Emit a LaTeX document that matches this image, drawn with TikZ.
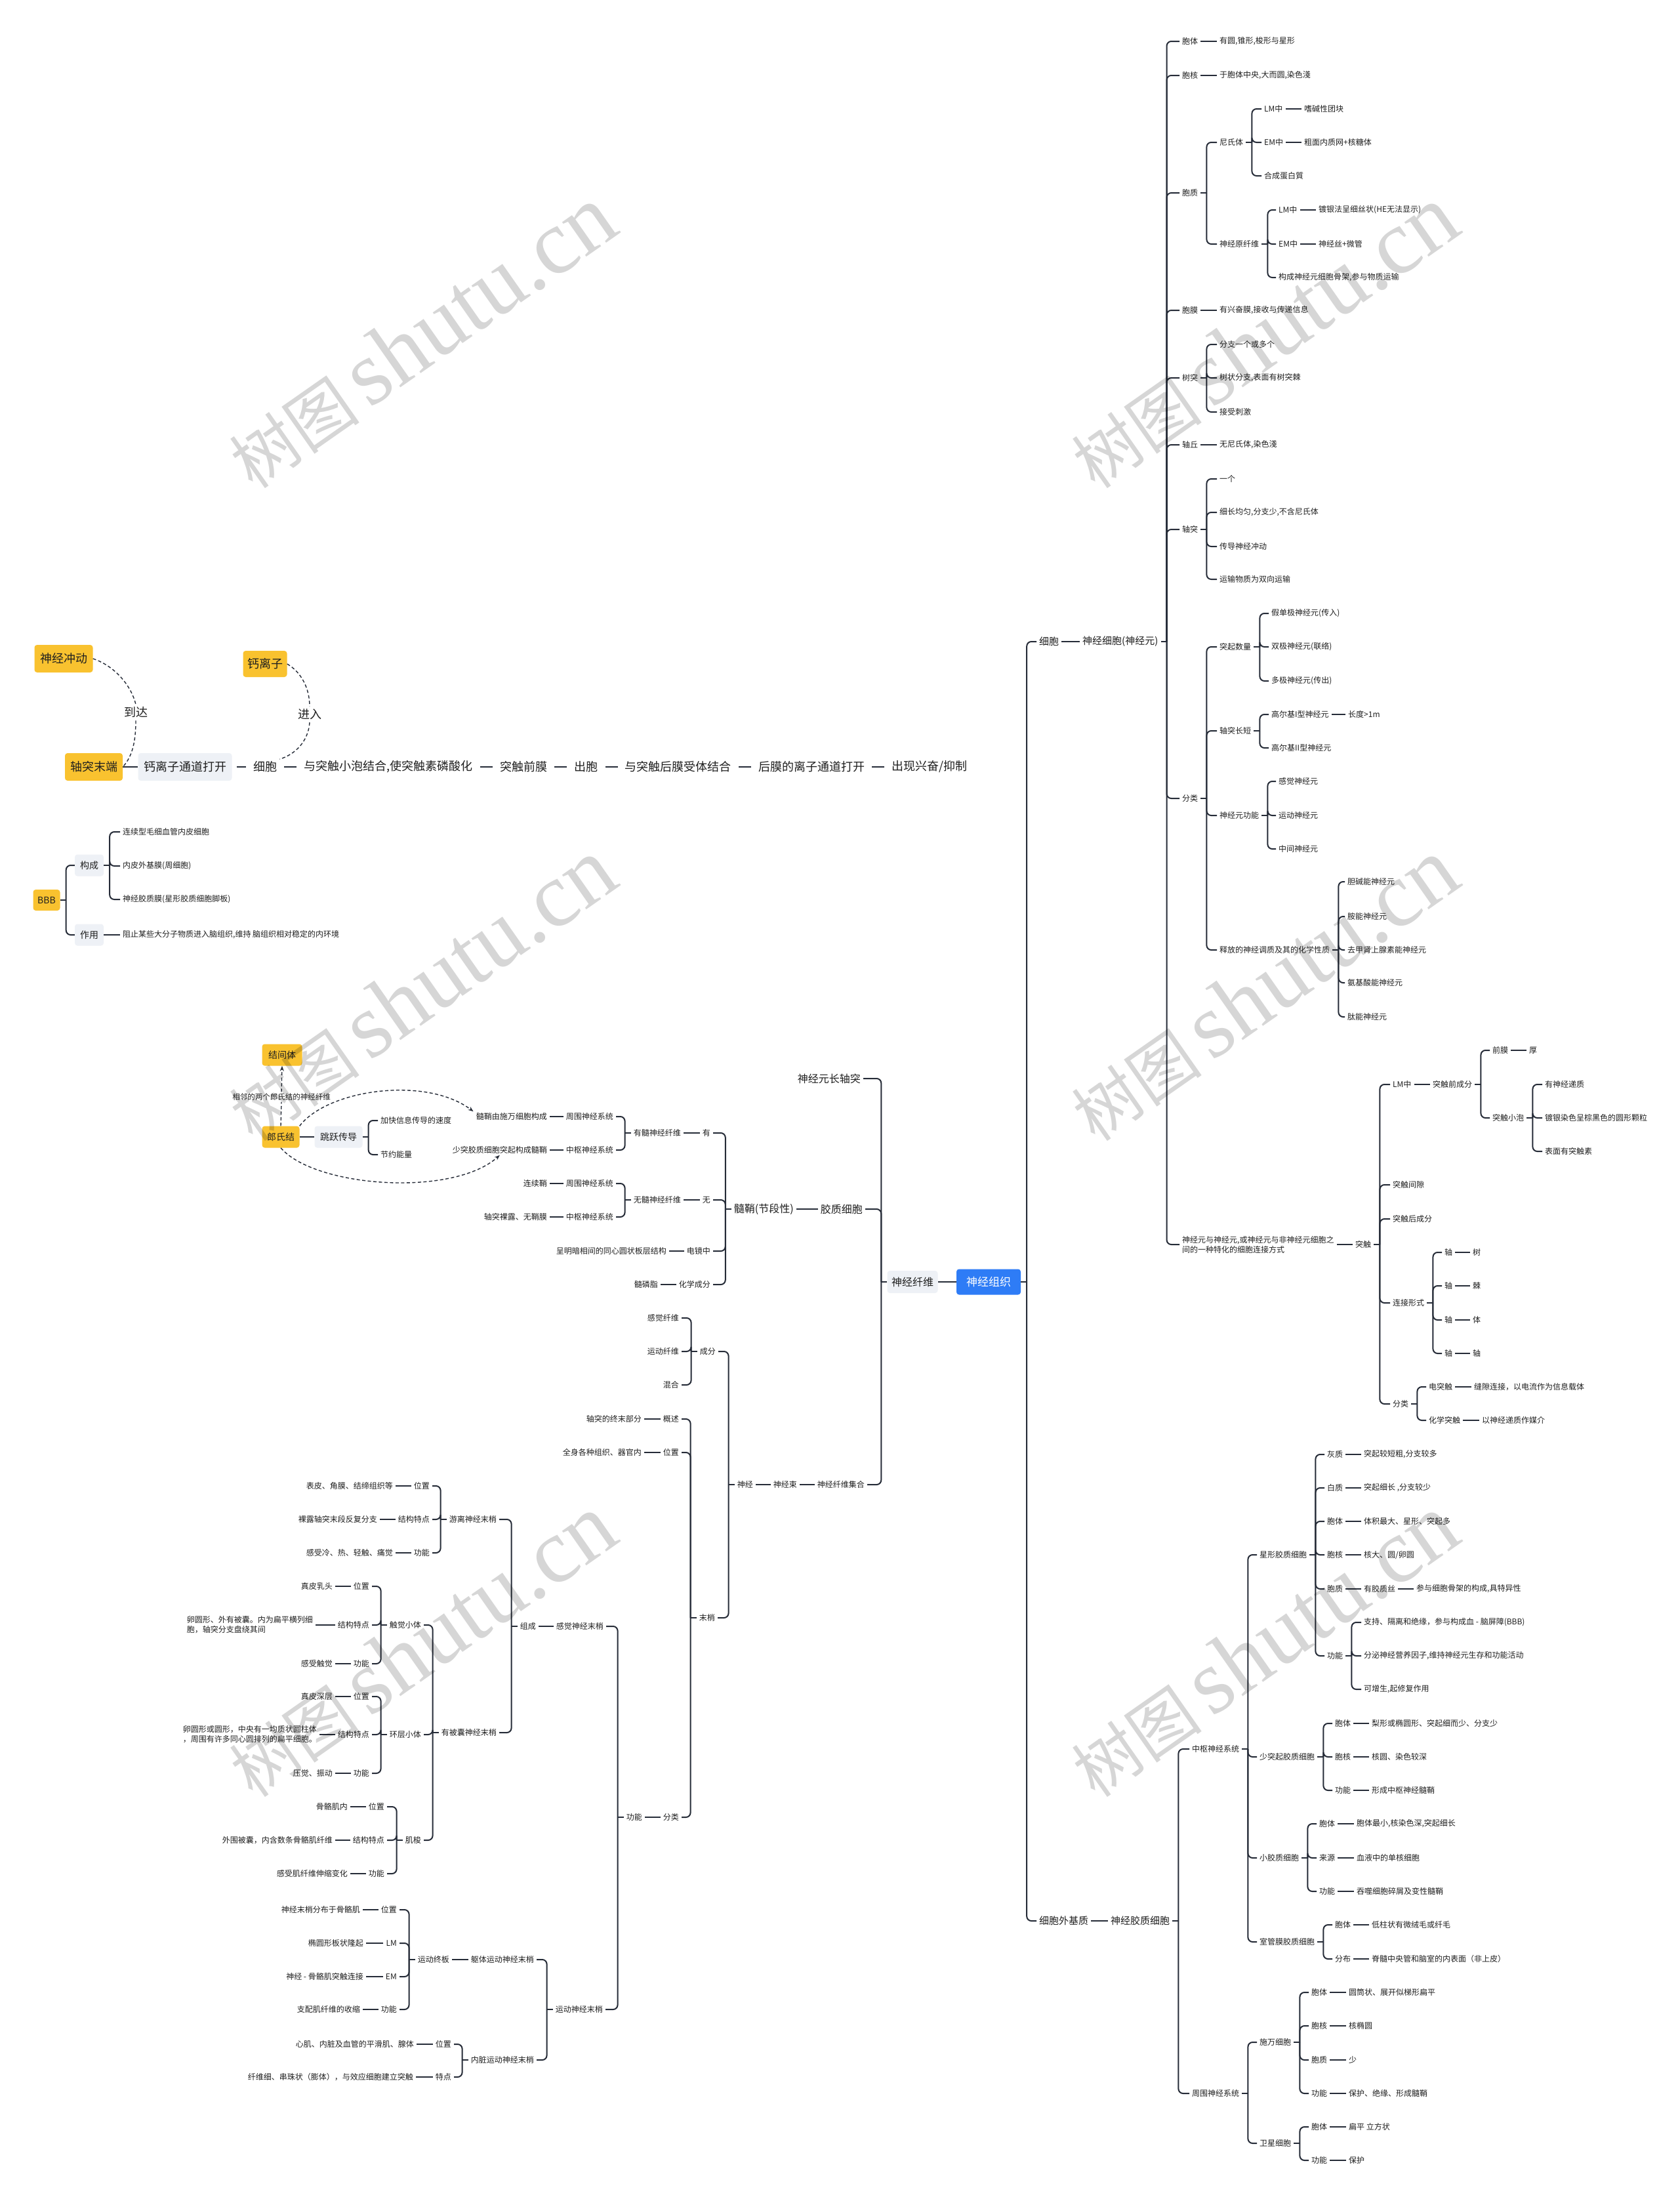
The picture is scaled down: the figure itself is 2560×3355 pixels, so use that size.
\documentclass[tikz,border=0pt]{standalone}
\usepackage{fontspec}
\setmainfont{Noto Sans CJK SC}
\newfontfamily\wmlatin{Liberation Serif}
\usetikzlibrary{arrows.meta, positioning, calc}
\definecolor{amber}{HTML}{F9C22F}
\definecolor{mist}{HTML}{EEF1F6}
\definecolor{royal}{HTML}{2E7CF6}
\definecolor{wire}{HTML}{262C38}
\definecolor{ink}{HTML}{1F1F1F}

\tikzset{
  link/.style={draw=wire, line width=2pt},
  txt/.style={font=\fontsize{12}{15}\selectfont, text=ink, inner xsep=4pt, inner ysep=2pt},
  rgt/.style={txt, anchor=west},
  lft/.style={txt, anchor=east},
  lvl/.style={font=\fontsize{15}{18}\selectfont},
  lvlb/.style={font=\fontsize{16}{19}\selectfont},
  chainf/.style={font=\fontsize{18}{22}\selectfont, text=ink, inner xsep=4pt},
  amberbox/.style={fill=amber, rounded corners=4pt, inner xsep=4pt, inner ysep=2pt, text=ink},
  mistbox/.style={fill=mist, rounded corners=4pt, inner xsep=4pt, inner ysep=2pt, text=ink},
  rel/.style={draw=wire, line width=1.4pt, dash pattern=on 5pt off 3.5pt},
  lbl/.style={fill=white, text=ink, inner sep=4pt},
  wm/.style={rotate=35, text=black, opacity=0.16}
}

\newcommand{\rtree}[2]{%
  \draw[link] (#1.east) -- ++(9,0) coordinate (#1-t);
  \foreach \kid in {#2} {\draw[link, rounded corners=7pt] (#1-t) |- (\kid.west);}}
\newcommand{\ltree}[2]{%
  \draw[link] (#1.west) -- ++(-9,0) coordinate (#1-t);
  \foreach \kid in {#2} {\draw[link, rounded corners=7pt] (#1-t) |- (\kid.east);}}

\begin{document}
\begin{tikzpicture}[x=1pt, y=-1pt]
\useasboundingbox (0,0) rectangle (2560,3355);
\fill[white] (0,0) rectangle (2560,3355);

% root
\node[fill=royal, text=white, rounded corners=4pt, font=\fontsize{17}{20}\selectfont, minimum width=98, minimum height=39] (ngz) at (1507,1954) {神经组织};
\node[mistbox, lvlb, minimum width=77, minimum height=34] (sjxw) at (1391,1954) {神经纤维};

% cell
\node[rgt,lvl] (xb) at (1580,978) {细胞};
\node[rgt,lvl] (sjxb) at (1646,978) {神经细胞(神经元)};
\node[rgt] (bt) at (1798,63) {胞体};
\node[rgt] (bt1) at (1855,63) {有圆,锥形,梭形与星形};
\node[rgt] (bh) at (1798,115) {胞核};
\node[rgt] (bh1) at (1855,115) {于胞体中央,大而圆,染色淺};
\node[rgt] (bz) at (1798,294) {胞质};
\node[rgt] (nst) at (1855,217) {尼氏体};
\node[rgt] (nlm) at (1923,166) {LM中};
\node[rgt] (nlm1) at (1984,166) {嗜碱性团块};
\node[rgt] (nem) at (1923,217) {EM中};
\node[rgt] (nem1) at (1984,217) {粗面内质网+核糖体};
\node[rgt] (nhc) at (1923,268) {合成蛋白質};
\node[rgt] (sjy) at (1855,372) {神经原纤维};
\node[rgt] (ylm) at (1945,320) {LM中};
\node[rgt] (ylm1) at (2006,320) {镀银法呈细丝状(HE无法显示)};
\node[rgt] (yem) at (1945,372) {EM中};
\node[rgt] (yem1) at (2006,372) {神经丝+微管};
\node[rgt] (ygc) at (1945,423) {构成神经元细胞骨架,参与物质运输};
\node[rgt] (bm) at (1798,473) {胞膜};
\node[rgt] (bm1) at (1855,473) {有兴奋膜,接收与传递信息};
\node[rgt] (st) at (1798,576) {树突};
\node[rgt] (st1) at (1855,525) {分支一个或多个};
\node[rgt] (st2) at (1855,576) {树状分支,表面有树突棘};
\node[rgt] (st3) at (1855,628) {接受刺激};
\node[rgt] (zq) at (1798,678) {轴丘};
\node[rgt] (zq1) at (1855,678) {无尼氏体,染色淺};
\node[rgt] (zt) at (1798,807) {轴突};
\node[rgt] (zt1) at (1855,730) {一个};
\node[rgt] (zt2) at (1855,781) {细长均匀,分支少,不含尼氏体};
\node[rgt] (zt3) at (1855,833) {传导神经冲动};
\node[rgt] (zt4) at (1855,883) {运输物质为双向运输};
\node[rgt] (fl) at (1798,1217) {分类};
\node[rgt] (tqs) at (1855,986) {突起数量};
\node[rgt] (tqs1) at (1934,935) {假单极神经元(传入)};
\node[rgt] (tqs2) at (1934,986) {双极神经元(联络)};
\node[rgt] (tqs3) at (1934,1038) {多极神经元(传出)};
\node[rgt] (ztc) at (1855,1114) {轴突长短};
\node[rgt] (gej1) at (1934,1089) {高尔基I型神经元};
\node[rgt] (gcd) at (2051,1089) {长度>1m};
\node[rgt] (gej2) at (1934,1140) {高尔基II型神经元};
\node[rgt] (gn) at (1855,1243) {神经元功能};
\node[rgt] (gn1) at (1945,1191) {感觉神经元};
\node[rgt] (gn2) at (1945,1243) {运动神经元};
\node[rgt] (gn3) at (1945,1294) {中间神经元};
\node[rgt] (tz) at (1855,1448) {释放的神经调质及其的化学性质};
\node[rgt] (tz1) at (2050,1344) {胆碱能神经元};
\node[rgt] (tz2) at (2050,1397) {胺能神经元};
\node[rgt] (tz3) at (2050,1448) {去甲肾上腺素能神经元};
\node[rgt] (tz4) at (2050,1498) {氨基酸能神经元};
\node[rgt] (tz5) at (2050,1550) {肽能神经元};
\node[rgt, align=left] (tcdy) at (1798,1897) {神经元与神经元,或神经元与非神经元细胞之\\间的一种特化的细胞连接方式};
\node[rgt] (tc) at (2062,1897) {突触};
\node[rgt] (lm) at (2119,1653) {LM中};
\node[rgt] (qcf) at (2180,1653) {突触前成分};
\node[rgt] (qm) at (2271,1601) {前膜};
\node[rgt] (qm1) at (2327,1601) {厚};
\node[rgt] (xp) at (2271,1704) {突触小泡};
\node[rgt] (xp1) at (2351,1653) {有神经递质};
\node[rgt] (xp2) at (2351,1704) {镀银染色呈棕黑色的圆形颗粒};
\node[rgt] (xp3) at (2351,1755) {表面有突触素};
\node[rgt] (jx) at (2119,1806) {突触间隙};
\node[rgt] (hcf) at (2119,1858) {突触后成分};
\node[rgt] (ljxs) at (2119,1986) {连接形式};
\node[rgt] (z1) at (2198,1909) {轴};
\node[rgt] (z1b) at (2241,1909) {树};
\node[rgt] (z2) at (2198,1960) {轴};
\node[rgt] (z2b) at (2241,1960) {棘};
\node[rgt] (z3) at (2198,2012) {轴};
\node[rgt] (z3b) at (2241,2012) {体};
\node[rgt] (z4) at (2198,2063) {轴};
\node[rgt] (z4b) at (2241,2063) {轴};
\node[rgt] (tfl) at (2119,2140) {分类};
\node[rgt] (dtc) at (2174,2114) {电突触};
\node[rgt] (dtc1) at (2243,2114) {缝隙连接，以电流作为信息载体};
\node[rgt] (hx) at (2174,2165) {化学突触};
\node[rgt] (hx1) at (2255,2165) {以神经递质作媒介};

% glia
\node[rgt,lvl] (xbw) at (1580,2928) {细胞外基质};
\node[rgt,lvl] (jzxb) at (1689,2928) {神经胶质细胞};
\node[rgt] (zs) at (1813,2666) {中枢神经系统};
\node[rgt] (xx) at (1916,2370) {星形胶质细胞};
\node[rgt] (xx1) at (2019,2217) {灰质};
\node[rgt] (xx1b) at (2075,2217) {突起较短粗,分支较多};
\node[rgt] (xx2) at (2019,2268) {白质};
\node[rgt] (xx2b) at (2075,2268) {突起细长 ,分支较少};
\node[rgt] (xx3) at (2019,2319) {胞体};
\node[rgt] (xx3b) at (2075,2319) {体积最大、星形、突起多};
\node[rgt] (xx4) at (2019,2370) {胞核};
\node[rgt] (xx4b) at (2075,2370) {核大、圆/卵圆};
\node[rgt] (xx5) at (2019,2422) {胞质};
\node[rgt] (xx5b) at (2075,2422) {有胶质丝};
\node[rgt] (xx5c) at (2155,2422) {参与细胞骨架的构成,具特异性};
\node[rgt] (xx6) at (2019,2524) {功能};
\node[rgt] (xx6a) at (2075,2473) {支持、隔离和绝缘，参与构成血 - 脑屏障(BBB)};
\node[rgt] (xx6b) at (2075,2524) {分泌神经营养因子,维持神经元生存和功能活动};
\node[rgt] (xx6c) at (2075,2575) {可增生,起修复作用};
\node[rgt] (sq) at (1916,2678) {少突起胶质细胞};
\node[rgt] (sq1) at (2031,2627) {胞体};
\node[rgt] (sq1b) at (2087,2627) {梨形或椭圆形、突起细而少、分支少};
\node[rgt] (sq2) at (2031,2678) {胞核};
\node[rgt] (sq2b) at (2087,2678) {核圆、染色较深};
\node[rgt] (sq3) at (2031,2729) {功能};
\node[rgt] (sq3b) at (2087,2729) {形成中枢神经髓鞘};
\node[rgt] (xj) at (1916,2832) {小胶质细胞};
\node[rgt] (xj1) at (2007,2780) {胞体};
\node[rgt] (xj1b) at (2064,2780) {胞体最小,核染色深,突起细长};
\node[rgt] (xj2) at (2007,2832) {来源};
\node[rgt] (xj2b) at (2064,2832) {血液中的单核细胞};
\node[rgt] (xj3) at (2007,2883) {功能};
\node[rgt] (xj3b) at (2064,2883) {吞噬细胞碎屑及变性髓鞘};
\node[rgt] (sg) at (1916,2960) {室管膜胶质细胞};
\node[rgt] (sg1) at (2031,2934) {胞体};
\node[rgt] (sg1b) at (2087,2934) {低柱状有微绒毛或纤毛};
\node[rgt] (sg2) at (2031,2986) {分布};
\node[rgt] (sg2b) at (2087,2986) {脊髓中央管和脑室的内表面（非上皮）};
\node[rgt] (zw) at (1813,3191) {周围神经系统};
\node[rgt] (sw) at (1916,3113) {施万细胞};
\node[rgt] (sw1) at (1995,3037) {胞体};
\node[rgt] (sw1b) at (2052,3037) {圆筒状、展开似梯形扁平};
\node[rgt] (sw2) at (1995,3088) {胞核};
\node[rgt] (sw2b) at (2052,3088) {核椭圆};
\node[rgt] (sw3) at (1995,3140) {胞质};
\node[rgt] (sw3b) at (2052,3140) {少};
\node[rgt] (sw4) at (1995,3191) {功能};
\node[rgt] (sw4b) at (2052,3191) {保护、绝缘、形成髓鞘};
\node[rgt] (wx) at (1916,3267) {卫星细胞};
\node[rgt] (wx1) at (1995,3242) {胞体};
\node[rgt] (wx1b) at (2052,3242) {扁平 立方状};
\node[rgt] (wx2) at (1995,3293) {功能};
\node[rgt] (wx2b) at (2052,3293) {保护};

% fibre
\node[lft,lvlb] (sjzt) at (1316,1644) {神经元长轴突};
\node[lft,lvlb] (jz) at (1319,1843) {胶质细胞};
\node[lft,lvlb] (sjs) at (1214,1843) {髓鞘(节段性)};
\node[lft] (you) at (1087,1727) {有};
\node[lft] (ysx) at (1042,1727) {有髓神经纤维};
\node[lft] (yzw) at (939,1702) {周围神经系统};
\node[lft] (yzw1) at (838,1702) {髓鞘由施万细胞构成};
\node[lft] (yzs) at (939,1753) {中枢神经系统};
\node[lft] (yzs1) at (838,1753) {少突胶质细胞突起构成髓鞘};
\node[lft] (wu) at (1087,1829) {无};
\node[lft] (wsx) at (1042,1829) {无髓神经纤维};
\node[lft] (wzw) at (939,1804) {周围神经系统};
\node[lft] (wzw1) at (838,1804) {连续鞘};
\node[lft] (wzs) at (939,1855) {中枢神经系统};
\node[lft] (wzs1) at (838,1855) {轴突裸露、无鞘膜};
\node[lft] (djz) at (1087,1907) {电镜中};
\node[lft] (djz1) at (1020,1907) {呈明暗相间的同心圆状板层结构};
\node[lft] (hxcf) at (1087,1958) {化学成分};
\node[lft] (hxcf1) at (1007,1958) {髓磷脂};
\node[lft] (sjjh) at (1322,2263) {神经纤维集合};
\node[lft] (sjsh) at (1219,2263) {神经束};
\node[lft] (sj) at (1152,2263) {神经};
\node[lft] (cf) at (1095,2060) {成分};
\node[lft] (cf1) at (1039,2009) {感觉纤维};
\node[lft] (cf2) at (1039,2060) {运动纤维};
\node[lft] (cf3) at (1039,2111) {混合};
\node[lft] (ms) at (1094,2466) {末梢};
\node[lft] (gs) at (1039,2163) {概述};
\node[lft] (gs1) at (982,2163) {轴突的终末部分};
\node[lft] (wz) at (1039,2214) {位置};
\node[lft] (wz1) at (982,2214) {全身各种组织、器官内};
\node[lft] (msfl) at (1039,2770) {分类};
\node[lft] (msgn) at (983,2770) {功能};
\node[lft] (gjm) at (924,2479) {感觉神经末梢};
\node[lft] (zc) at (821,2479) {组成};
\node[lft] (yl) at (761,2316) {游离神经末梢};
\node[lft] (yl1) at (659,2265) {位置};
\node[lft] (yl1b) at (603,2265) {表皮、角膜、结缔组织等};
\node[lft] (yl2) at (659,2316) {结构特点};
\node[lft] (yl2b) at (579,2316) {裸露轴突末段反复分支};
\node[lft] (yl3) at (659,2367) {功能};
\node[lft] (yl3b) at (603,2367) {感受冷、热、轻触、痛觉};
\node[lft] (ybn) at (761,2641) {有被囊神经末梢};
\node[lft] (cj) at (646,2477) {触觉小体};
\node[lft] (cj1) at (567,2418) {位置};
\node[lft] (cj1b) at (511,2418) {真皮乳头};
\node[lft] (cj2) at (567,2477) {结构特点};
\node[lft, align=left] (cj2b) at (481,2477) {卵圆形、外有被囊。内为扁平横列细\\胞，轴突分支盘绕其间};
\node[lft] (cj3) at (567,2536) {功能};
\node[lft] (cj3b) at (511,2536) {感受触觉};
\node[lft] (hc) at (646,2644) {环层小体};
\node[lft] (hc1) at (567,2586) {位置};
\node[lft] (hc1b) at (511,2586) {真皮深层};
\node[lft] (hc2) at (567,2644) {结构特点};
\node[lft, align=left] (hc2b) at (487,2644) {卵圆形或圆形，中央有一均质状圆柱体\\，周围有许多同心圆排列的扁平细胞。};
\node[lft] (hc3) at (567,2703) {功能};
\node[lft] (hc3b) at (511,2703) {压觉、振动};
\node[lft] (js) at (646,2805) {肌梭};
\node[lft] (js1) at (590,2754) {位置};
\node[lft] (js1b) at (534,2754) {骨骼肌内};
\node[lft] (js2) at (590,2805) {结构特点};
\node[lft] (js2b) at (511,2805) {外围被囊，内含数条骨骼肌纤维};
\node[lft] (js3) at (590,2856) {功能};
\node[lft] (js3b) at (534,2856) {感受肌纤维伸缩变化};
\node[lft] (ydm) at (923,3063) {运动神经末梢};
\node[lft] (qt) at (818,2987) {躯体运动神经末梢};
\node[lft] (zb) at (689,2987) {运动终板};
\node[lft] (zb1) at (609,2911) {位置};
\node[lft] (zb1b) at (553,2911) {神经末梢分布于骨骼肌};
\node[lft] (zb2) at (609,2962) {LM};
\node[lft] (zb2b) at (558,2962) {椭圆形板状隆起};
\node[lft] (zb3) at (609,3013) {EM};
\node[lft] (zb3b) at (558,3013) {神经 - 骨骼肌突触连接};
\node[lft] (zb4) at (609,3063) {功能};
\node[lft] (zb4b) at (553,3063) {支配肌纤维的收缩};
\node[lft] (nz) at (818,3140) {内脏运动神经末梢};
\node[lft] (nz1) at (692,3116) {位置};
\node[lft] (nz1b) at (635,3116) {心肌、内脏及血管的平滑肌、腺体};
\node[lft] (nz2) at (692,3166) {特点};
\node[lft] (nz2b) at (634,3166) {纤维细、串珠状（膨体），与效应细胞建立突触};

% ranvier
\node[amberbox, font=\fontsize{14}{17}\selectfont, minimum width=57, minimum height=33] (lsj) at (428,1733) {郎氏结};
\node[mistbox, font=\fontsize{14}{17}\selectfont, minimum width=73, minimum height=33] (tyc) at (516,1733) {跳跃传导};
\node[amberbox, font=\fontsize{14}{17}\selectfont, minimum width=61, minimum height=33] (jjt) at (430,1608) {结间体};
\node[rgt] (tyc1) at (576,1708) {加快信息传导的速度};
\node[rgt] (tyc2) at (576,1760) {节约能量};
\node[lbl, inner sep=2pt, font=\fontsize{11.5}{14}\selectfont] (xl) at (429,1672) {相邻的两个郎氏结的神经纤维};

% BBB
\node[amberbox, font=\fontsize{14}{17}\selectfont, minimum width=41, minimum height=32] (bbb) at (71,1372) {BBB};
\node[mistbox, font=\fontsize{14}{17}\selectfont, minimum width=44, minimum height=33] (gc) at (136,1319) {构成};
\node[mistbox, font=\fontsize{14}{17}\selectfont, minimum width=44, minimum height=33] (zy) at (136,1425) {作用};
\node[rgt] (gc1) at (183,1268) {连续型毛细血管内皮细胞};
\node[rgt] (gc2) at (183,1320) {内皮外基膜(周细胞)};
\node[rgt] (gc3) at (183,1371) {神经胶质膜(星形胶质细胞脚板)};
\node[rgt] (zy1) at (183,1425) {阻止某些大分子物质进入脑组织,维持 脑组织相对稳定的内环境};

% release chain
\node[amberbox, chainf, minimum width=89, minimum height=42] (sjcd) at (97,1004) {神经冲动};
\node[amberbox, chainf, minimum width=67, minimum height=40] (gl) at (404,1012) {钙离子};
\node[amberbox, chainf, minimum width=88, minimum height=42] (tmd) at (143,1169) {轴突末端};
\node[mistbox, chainf, minimum width=143, minimum height=42] (gtd) at (282,1169) {钙离子通道打开};
\node[chainf, anchor=west] (c1) at (382,1169) {细胞};
\node[chainf, right=33pt of c1] (c2) {与突触小泡结合,使突触素磷酸化};
\node[chainf, right=33pt of c2] (c3) {突触前膜};
\node[chainf, right=33pt of c3] (c4) {出胞};
\node[chainf, right=33pt of c4] (c5) {与突触后膜受体结合};
\node[chainf, right=33pt of c5] (c6) {后膜的离子通道打开};
\node[chainf, right=33pt of c6] (c7) {出现兴奋/抑制};
\node[lbl, chainf] (dd) at (207,1086) {到达};
\node[lbl, chainf] (jr) at (472,1089) {进入};

% connectors
\rtree{ngz}{xb,xbw}
\draw[link] (ngz.west) -- (sjxw.east);
\rtree{sjxb}{bt,bh,bz,bm,st,zq,zt,fl,tcdy}
\rtree{bz}{nst,sjy}
\rtree{nst}{nlm,nem,nhc}
\rtree{sjy}{ylm,yem,ygc}
\rtree{st}{st1,st2,st3}
\rtree{zt}{zt1,zt2,zt3,zt4}
\rtree{fl}{tqs,ztc,gn,tz}
\rtree{tqs}{tqs1,tqs2,tqs3}
\rtree{ztc}{gej1,gej2}
\rtree{gn}{gn1,gn2,gn3}
\rtree{tz}{tz1,tz2,tz3,tz4,tz5}
\rtree{tc}{lm,jx,hcf,ljxs,tfl}
\rtree{qcf}{qm,xp}
\rtree{xp}{xp1,xp2,xp3}
\rtree{ljxs}{z1,z2,z3,z4}
\rtree{tfl}{dtc,hx}
\rtree{jzxb}{zs,zw}
\rtree{zs}{xx,sq,xj,sg}
\rtree{xx}{xx1,xx2,xx3,xx4,xx5,xx6}
\rtree{xx6}{xx6a,xx6b,xx6c}
\rtree{sq}{sq1,sq2,sq3}
\rtree{xj}{xj1,xj2,xj3}
\rtree{sg}{sg1,sg2}
\rtree{zw}{sw,wx}
\rtree{sw}{sw1,sw2,sw3,sw4}
\rtree{wx}{wx1,wx2}
\rtree{bbb}{gc,zy}
\rtree{gc}{gc1,gc2,gc3}
\rtree{tyc}{tyc1,tyc2}
\foreach \a/\b in {xb/sjxb, bt/bt1, bh/bh1, nlm/nlm1, nem/nem1, ylm/ylm1, yem/yem1,
    bm/bm1, zq/zq1, gej1/gcd, tcdy/tc, lm/qcf, qm/qm1, z1/z1b, z2/z2b, z3/z3b, z4/z4b,
    dtc/dtc1, hx/hx1, xbw/jzxb, xx1/xx1b, xx2/xx2b, xx3/xx3b, xx4/xx4b, xx5/xx5b,
    xx5b/xx5c, sq1/sq1b, sq2/sq2b, sq3/sq3b, xj1/xj1b, xj2/xj2b, xj3/xj3b, sg1/sg1b,
    sg2/sg2b, sw1/sw1b, sw2/sw2b, sw3/sw3b, sw4/sw4b, wx1/wx1b, wx2/wx2b, zy/zy1,
    lsj/tyc, tmd/gtd}
  \draw[link] (\a.east) -- (\b.west);
\foreach \a/\b in {gtd/c1, c1/c2, c2/c3, c3/c4, c4/c5, c5/c6, c6/c7}
  \draw[link, shorten <=7pt, shorten >=7pt] (\a.east) -- (\b.west);

\ltree{sjxw}{sjzt,jz,sjjh}
\ltree{sjs}{you,wu,djz,hxcf}
\ltree{ysx}{yzw,yzs}
\ltree{wsx}{wzw,wzs}
\ltree{sj}{cf,ms}
\ltree{cf}{cf1,cf2,cf3}
\ltree{ms}{gs,wz,msfl}
\ltree{msgn}{gjm,ydm}
\ltree{zc}{yl,ybn}
\ltree{yl}{yl1,yl2,yl3}
\ltree{ybn}{cj,hc,js}
\ltree{cj}{cj1,cj2,cj3}
\ltree{hc}{hc1,hc2,hc3}
\ltree{js}{js1,js2,js3}
\ltree{ydm}{qt,nz}
\ltree{zb}{zb1,zb2,zb3,zb4}
\ltree{nz}{nz1,nz2}
\foreach \a/\b in {jz/sjs, you/ysx, yzw/yzw1, yzs/yzs1, wu/wsx, wzw/wzw1, wzs/wzs1,
    djz/djz1, hxcf/hxcf1, sjjh/sjsh, sjsh/sj, gs/gs1, wz/wz1, msfl/msgn, gjm/zc,
    yl1/yl1b, yl2/yl2b, yl3/yl3b, cj1/cj1b, cj2/cj2b, cj3/cj3b, hc1/hc1b, hc2/hc2b,
    hc3/hc3b, js1/js1b, js2/js2b, js3/js3b, qt/zb, zb1/zb1b, zb2/zb2b, zb3/zb3b,
    zb4/zb4b, nz1/nz1b, nz2/nz2b}
  \draw[link] (\a.west) -- (\b.east);

% dashed relations
\draw[rel] (sjcd.east) .. controls (175,1015) and (200,1045) .. (dd.north);
\draw[rel] (dd.south) .. controls (207,1135) and (200,1155) .. (tmd.east);
\draw[rel] (gl.east) .. controls (460,1025) and (472,1050) .. (jr.north);
\draw[rel] (jr.south) .. controls (470,1130) and (450,1150) .. (c1.north east);
\draw[rel] (lsj.north) -- (xl.south);
\draw[rel, -{Stealth[length=8pt, width=6pt]}] (xl.north) -- (jjt.south);
\draw[rel, -{Stealth[length=8pt, width=6pt]}] (lsj.north east) .. controls (500,1660) and (650,1640) .. (yzw1.north west);
\draw[rel, -{Stealth[length=8pt, width=6pt]}] (lsj.south) .. controls (480,1810) and (690,1825) .. (yzs1.south);

% watermark
\foreach \x/\y [count=\i] in {642/514, 1926/514, 642/1509, 1926/1509, 642/2509, 1926/2509}
  \node[wm] (wm\i) at (\x,\y) {\fontsize{100}{100}\selectfont 树图\,{\wmlatin\fontsize{140}{140}\selectfont shutu.cn}};
\end{tikzpicture}
\end{document}
